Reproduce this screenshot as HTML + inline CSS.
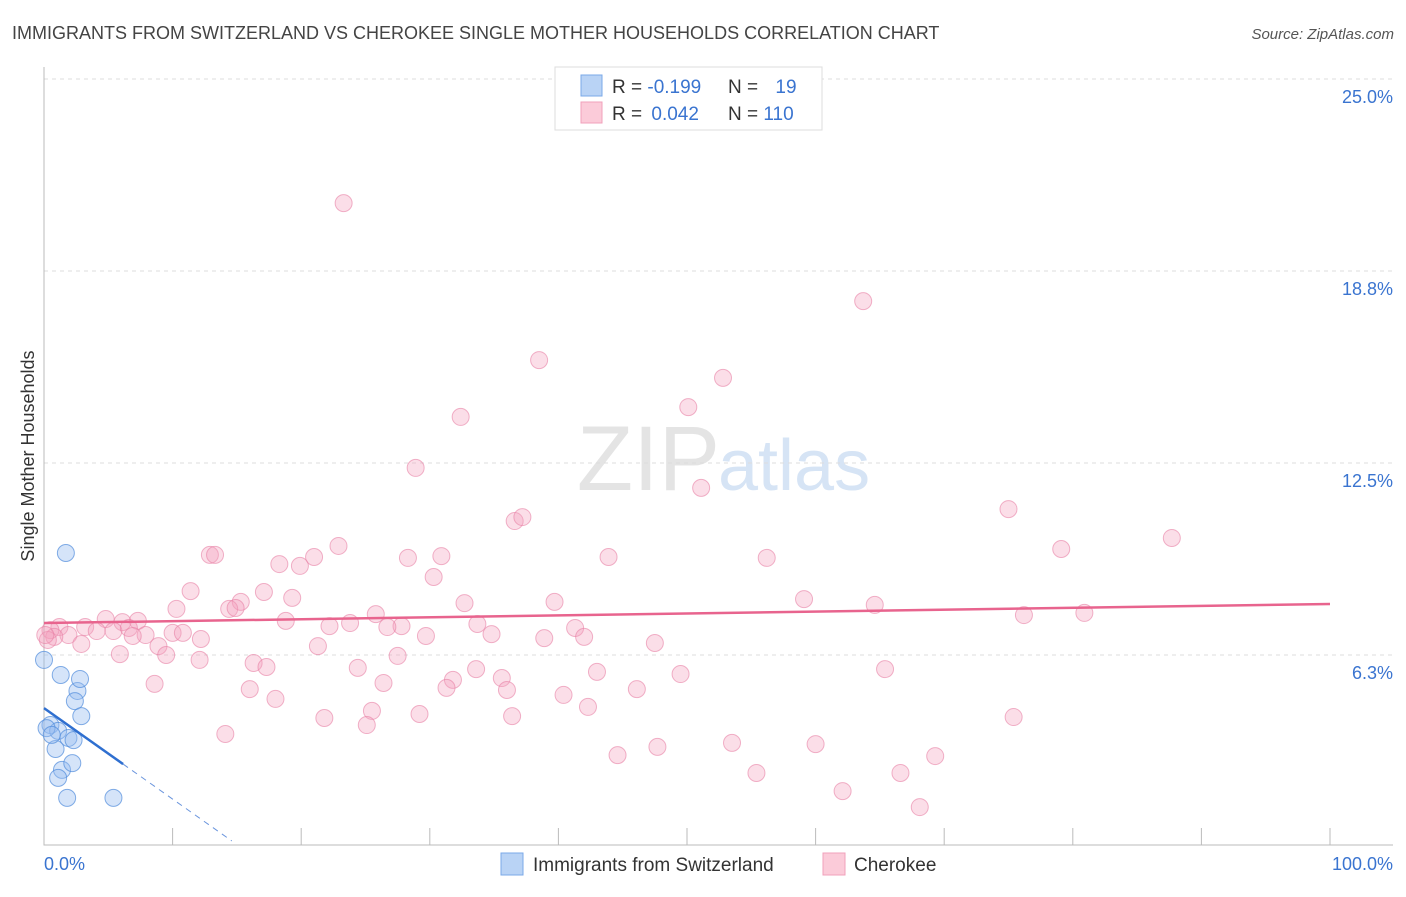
<!DOCTYPE html>
<html><head><meta charset="utf-8"><style>
body{margin:0;background:#fff;font-family:"Liberation Sans",sans-serif}
svg text{font-family:"Liberation Sans",sans-serif}
</style></head><body>
<svg id="c" width="1406" height="892">
<text x="12" y="39" font-size="18" fill="#444">IMMIGRANTS FROM SWITZERLAND VS CHEROKEE SINGLE MOTHER HOUSEHOLDS CORRELATION CHART</text>
<text x="1394" y="39" font-size="15" fill="#555" font-style="italic" text-anchor="end">Source: ZipAtlas.com</text>
<text x="720" y="490" font-size="92" fill="#e4e4e4" text-anchor="end" font-family="Liberation Serif">ZIP</text>
<text x="718" y="490" font-size="72" fill="#d6e4f5">atlas</text>
<text x="34" y="456" font-size="18" fill="#333" text-anchor="middle" transform="rotate(-90 34 456)">Single Mother Households</text>
<g id="grid"></g><g id="pts"></g><g id="lines"></g>
<g>
<rect x="555" y="67" width="267" height="63" fill="#fff" stroke="#ddd"/>
<rect x="581" y="75" width="21" height="21" fill="#b9d3f5" stroke="#7aa8e8"/>
<rect x="581" y="102" width="21" height="21" fill="#fbcbd9" stroke="#f0a0bb"/>
<text x="612" y="93" font-size="19" fill="#333">R = <tspan fill="#3a74d0">-0.199</tspan></text>
<text x="728" y="93" font-size="19" fill="#333">N = <tspan fill="#3a74d0" dx="12">19</tspan></text>
<text x="612" y="120" font-size="19" fill="#333">R = <tspan fill="#3a74d0" dx="4">0.042</tspan></text>
<text x="728" y="120" font-size="19" fill="#333">N = <tspan fill="#3a74d0">110</tspan></text>
</g>
<g>
<rect x="501" y="853" width="22" height="22" fill="#b9d3f5" stroke="#7aa8e8"/>
<text x="533" y="871" font-size="19" fill="#333">Immigrants from Switzerland</text>
<rect x="823" y="853" width="22" height="22" fill="#fbcbd9" stroke="#f0a0bb"/>
<text x="854" y="871" font-size="19" fill="#333">Cherokee</text>
</g>
</svg>
<script>
const yTicks=[6.25,12.5,18.75,25];
const yTickLabels=["6.3%","12.5%","18.8%","25.0%"];
const xTickLabels=["0.0%","100.0%"];
const blueX=[1.7,0,1.3,2.6,2.8,2.4,2.9,0.5,1.1,0.9,1.9,2.3,1.4,2.2,1.1,1.8,5.4,0.2,0.6];
const blueY=[9.57,6.09,5.6,5.08,5.47,4.75,4.26,3.97,3.78,3.19,3.55,3.48,2.51,2.73,2.25,1.6,1.6,3.87,3.65];
const pinkX=[23.3,63.7,38.5,52.8,50.1,32.4,28.9,51.1,36.6,37.2,75.0,87.7,79.1,22.9,12.9,13.3,21.0,18.3,19.9,28.3,30.9,43.9,56.2,30.3,11.4,17.1,19.3,15.3,10.3,14.4,14.9,32.7,39.7,59.1,64.6,76.2,80.9,25.8,18.8,23.8,27.8,22.2,26.7,33.7,41.3,7.3,4.8,6.1,3.2,1.2,0.5,1.9,4.1,5.4,6.6,7.9,6.9,10.0,10.8,12.2,8.9,9.5,2.9,5.9,12.1,21.3,29.7,34.8,38.9,42.0,47.5,27.5,16.3,17.3,24.4,33.6,31.8,35.6,8.6,16.0,26.4,31.3,36.0,43.0,46.1,49.5,65.4,18.0,40.4,42.3,25.5,21.8,29.2,36.4,75.4,25.1,14.1,53.5,47.7,60.0,44.6,69.3,55.4,66.6,62.1,68.1,0.8,0.3,0.1];
const pinkY=[20.96,17.77,15.85,15.27,14.32,14.0,12.34,11.69,10.61,10.74,11.0,10.06,9.7,9.8,9.51,9.51,9.44,9.21,9.15,9.41,9.47,9.44,9.41,8.79,8.33,8.3,8.11,7.98,7.75,7.75,7.78,7.94,7.98,8.07,7.88,7.55,7.62,7.58,7.36,7.29,7.19,7.19,7.16,7.26,7.13,7.36,7.42,7.32,7.16,7.16,7.06,6.9,7.03,7.03,7.13,6.9,6.87,6.97,6.97,6.77,6.54,6.25,6.61,6.28,6.09,6.54,6.87,6.93,6.8,6.84,6.64,6.22,5.99,5.86,5.83,5.79,5.44,5.5,5.31,5.14,5.34,5.18,5.11,5.7,5.14,5.63,5.79,4.82,4.95,4.56,4.43,4.2,4.33,4.26,4.23,3.97,3.68,3.39,3.26,3.35,2.99,2.96,2.41,2.41,1.82,1.3,6.84,6.74,6.9];
const blueTrend=[4.52,-0.296];
const pinkTrend=[7.29,0.0062];
const NS="http://www.w3.org/2000/svg";
const X=v=>44+v*12.86, Y=v=>847-v*30.72;
function mk(t,a,p){const e=document.createElementNS(NS,t);for(const k in a)e.setAttribute(k,a[k]);p.appendChild(e);return e;}
const grid=document.getElementById('grid'),pts=document.getElementById('pts'),ln=document.getElementById('lines');
yTicks.forEach((v,i)=>{
 const l=mk('line',{x1:44,x2:1393,y1:Y(v),y2:Y(v),stroke:'#ddd','stroke-dasharray':'4,4'},grid);
 
 
 const t=mk('text',{x:1393,y:Y(v)+24,'font-size':18,fill:'#3a74d0','text-anchor':'end'},grid);
 t.textContent=yTickLabels[i];
 
 
});
const ax=mk('path',{d:'M44,67V845H1393',stroke:'#bbb',fill:'none'},grid);


for(let i=1;i<=10;i++){const tk=mk('line',{x1:X(i*10),x2:X(i*10),y1:845,y2:828,stroke:'#bbb'},grid);
 
 }
[[0,'start',44],[100,'end',1393]].forEach((d,i)=>{const t=mk('text',{x:d[2],y:870,'font-size':18,fill:'#3a74d0','text-anchor':d[1]},grid);t.textContent=xTickLabels[i];
 
 });
pinkX.forEach((x,i)=>{const c=mk('circle',{cx:X(x),cy:Y(pinkY[i]),r:8.5,fill:'rgba(244,160,188,0.35)',stroke:'rgba(232,128,165,0.6)'},pts);
 
 });
blueX.forEach((x,i)=>{const c=mk('circle',{cx:X(x),cy:Y(blueY[i]),r:8.5,fill:'rgba(150,188,240,0.4)',stroke:'rgba(80,140,220,0.7)'},pts);
 
 });
const pl=mk('line',{x1:X(0),y1:Y(pinkTrend[0]),x2:X(100),y2:Y(pinkTrend[0]+pinkTrend[1]*100),stroke:'#e8648e','stroke-width':2.5},ln);


const bl=mk('line',{x1:X(0),y1:Y(blueTrend[0]),x2:X(6.15),y2:Y(blueTrend[0]+blueTrend[1]*6.15),stroke:'#2f6fd0','stroke-width':2.5},ln);


const bd=mk('line',{x1:X(6.15),y1:Y(blueTrend[0]+blueTrend[1]*6.15),x2:X(14.6),y2:Y(blueTrend[0]+blueTrend[1]*14.6),stroke:'#6a95dd','stroke-width':1,'stroke-dasharray':'6,5'},ln);


</script>
</body></html>
